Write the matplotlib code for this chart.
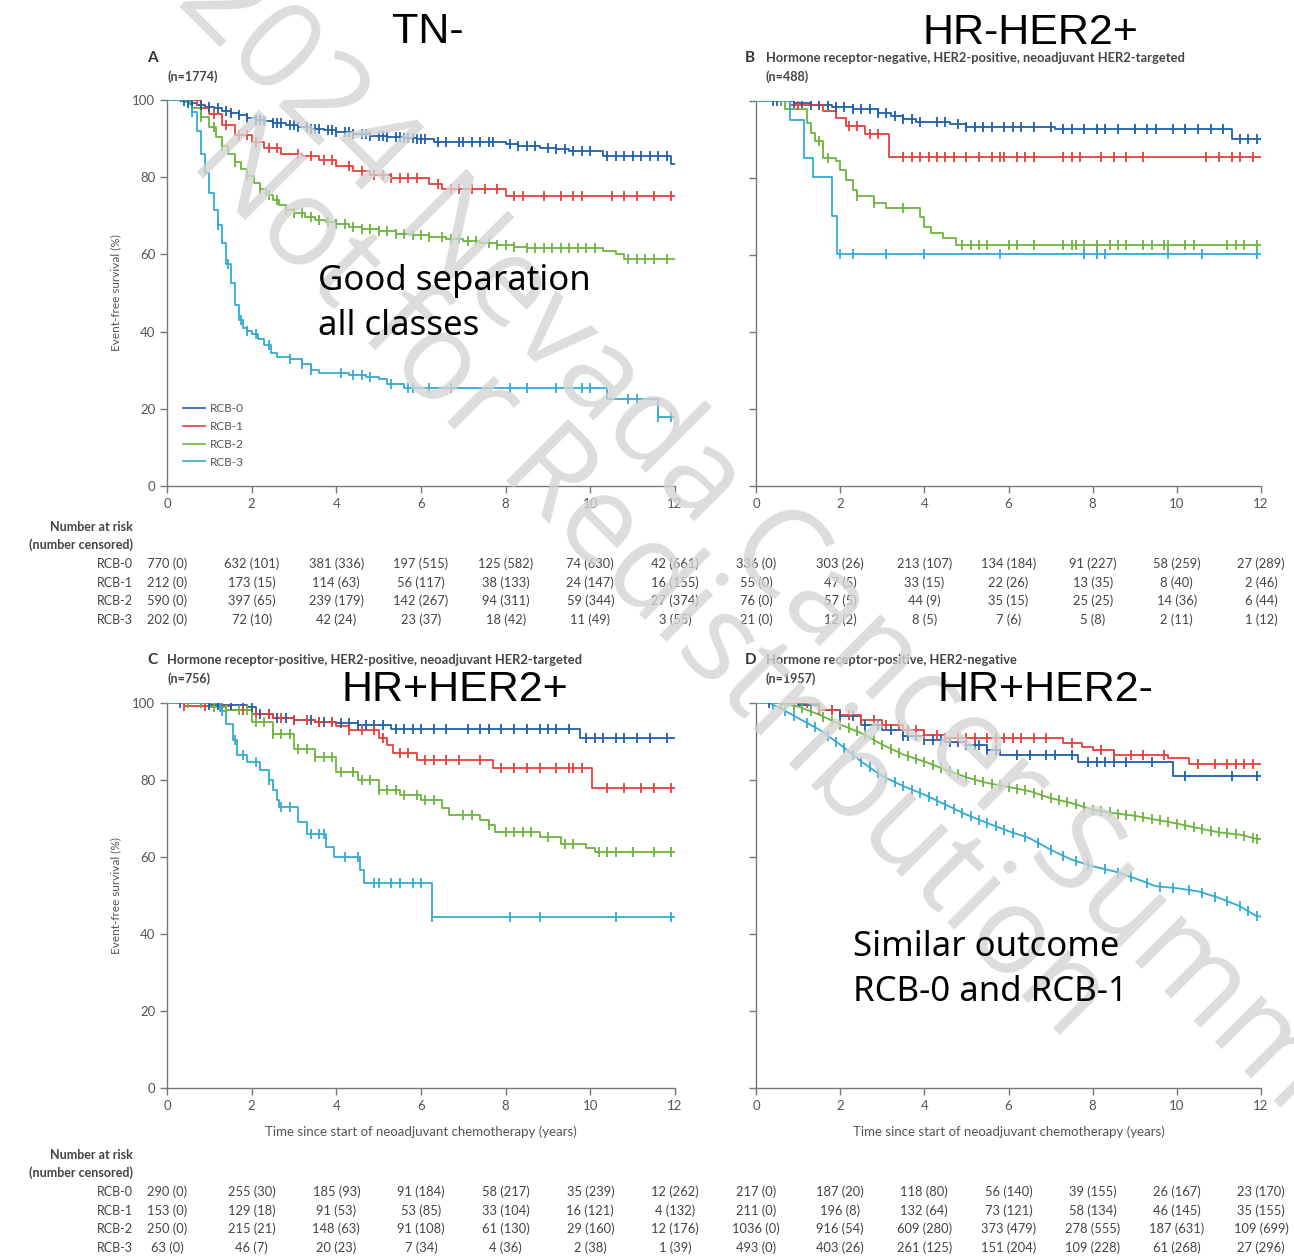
import numpy as np
import matplotlib
matplotlib.use('Agg')
import matplotlib.pyplot as plt
import matplotlib.transforms as mtransforms

W, H = 1294, 1256

groups = ['RCB-0', 'RCB-1', 'RCB-2', 'RCB-3']
colors = ['#1d5fa9', '#e6403b', '#6cb43f', '#33aad4']
years = [0, 2, 4, 6, 8, 10, 12]

# ---- Panel A: triple negative ----
a0_t = [0, 0.3, 0.5, 0.7, 0.9, 1.1, 1.3, 1.5, 1.7, 1.9, 2.1, 2.3, 2.5, 2.8, 3.1, 3.4, 3.7, 4.0, 4.4, 4.8, 5.2, 5.6, 5.9, 6.3, 8.0, 8.3, 8.8, 9.2, 9.5, 10.3, 11.9]
a0_s = [100, 99.7, 99.3, 98.8, 98.3, 97.8, 97.2, 96.6, 96, 95.4, 94.9, 94.5, 94.1, 93.6, 93.1, 92.6, 92.1, 91.6, 91.2, 90.8, 90.5, 90.2, 89.8, 89.1, 88.6, 88.1, 87.6, 87.2, 86.8, 85.6, 83.5]
a1_t = [0, 0.5, 0.8, 1.0, 1.3, 1.6, 2.0, 2.3, 2.7, 3.2, 3.6, 4.0, 4.4, 4.8, 5.3, 6.2, 6.5, 8.0]
a1_s = [100, 100, 98, 96.5, 93.5, 91, 89, 87.5, 86, 85.5, 84.5, 83, 81.5, 80.5, 79.8, 78.2, 77, 75.2]
a2_t = [0, 0.4, 0.6, 0.8, 1.0, 1.15, 1.3, 1.45, 1.6, 1.75, 1.9, 2.05, 2.2, 2.35, 2.5, 2.65, 2.8, 3.0, 3.25, 3.5, 3.75, 4.0, 4.3, 4.6, 5.0, 5.4, 5.8, 6.2, 6.6, 7.0, 7.4, 7.8, 8.2, 8.5, 10.3, 10.6, 10.8]
a2_s = [100, 99.5, 97.8, 95.5, 93, 90.5, 88.2, 86, 84, 82, 80.2, 78.6, 77, 75.4, 74, 72.8, 71.6, 70.6, 69.8, 69, 68.4, 67.8, 67.2, 66.6, 66, 65.4, 64.9, 64.5, 64, 63.5, 63, 62.5, 62, 61.6, 61, 60, 58.8]
a3_t = [0, 0.5, 0.6, 0.7, 0.8, 0.9, 1.0, 1.1, 1.2, 1.3, 1.4, 1.5, 1.6, 1.7, 1.8, 1.9, 2.0, 2.15, 2.3, 2.45, 2.6, 2.9, 3.2, 3.4, 3.6, 4.3, 4.7, 5.0, 5.2, 5.6, 10.4, 11.6]
a3_s = [100, 99, 97, 92, 86, 81, 76, 71.5, 67.5, 63, 57.5, 52.5, 47, 43, 41, 40.2, 39.5, 38, 36.5, 34.5, 33.3, 33, 31.5, 30, 29.2, 28.8, 28.2, 27.7, 26.5, 25.3, 22.5, 17.8]
a0_c = [0.4, 0.5, 0.6, 0.8, 1.0, 1.2, 1.4, 1.5, 1.7, 1.9, 2.1, 2.2, 2.3, 2.5, 2.6, 2.7, 2.9, 3.0, 3.1, 3.3, 3.4, 3.5, 3.6, 3.8, 3.9, 4.0, 4.2, 4.3, 4.4, 4.6, 4.7, 4.8, 5.0, 5.1, 5.2, 5.4, 5.5, 5.6, 5.7, 5.8, 5.9, 6.0, 6.1, 6.4, 6.6, 6.9, 7.0, 7.2, 7.4, 7.6, 7.7, 8.1, 8.3, 8.5, 8.7, 9.0, 9.2, 9.4, 9.6, 9.8, 10.0, 10.4, 10.6, 10.8, 11.0, 11.2, 11.4, 11.6, 11.8]
a1_c = [0.7, 1.1, 1.4, 1.7, 1.9, 2.1, 2.4, 2.6, 3.1, 3.4, 3.7, 3.9, 4.3, 4.6, 4.9, 5.1, 5.3, 5.5, 5.7, 5.9, 6.4, 6.7, 6.9, 7.2, 7.5, 7.8, 8.2, 8.4, 8.9, 9.3, 9.6, 9.8, 10.5, 10.8, 11.1, 11.5, 11.9]
a2_c = [0.8, 1.1, 1.3, 1.6, 1.9, 2.2, 2.4, 2.6, 2.8, 3.0, 3.2, 3.4, 3.6, 3.8, 4.0, 4.2, 4.4, 4.6, 4.8, 5.0, 5.2, 5.4, 5.6, 5.8, 6.0, 6.2, 6.5, 6.7, 6.9, 7.1, 7.3, 7.6, 7.8, 8.0, 8.2, 8.5, 8.7, 8.9, 9.1, 9.3, 9.5, 9.7, 9.9, 10.1, 10.9, 11.1, 11.3, 11.5, 11.8]
a3_c = [0.6, 1.2, 1.45, 1.75, 1.9, 2.1, 2.4, 2.9, 3.2, 3.4, 4.1, 4.4, 4.6, 4.8, 5.3, 5.7, 5.8, 6.2, 6.7, 8.1, 8.5, 9.2, 9.8, 10.0, 10.9, 11.1, 11.6, 11.9]

# ---- Panel B: HR-negative HER2-positive ----
b0_t = [0, 0.9, 1.3, 1.8, 2.3, 2.9, 3.2, 3.5, 3.8, 4.6, 5.0, 7.1, 11.3]
b0_s = [100, 99.5, 99, 98.5, 98, 97, 96, 95.2, 94.6, 94, 93.3, 92.7, 90.1]
b1_t = [0, 0.8, 1.6, 1.9, 2.15, 2.6, 3.15]
b1_s = [100, 99, 97.5, 95.7, 93.5, 91.3, 85.4]
b2_t = [0, 0.7, 1.2, 1.3, 1.4, 1.6, 1.9, 2.0, 2.15, 2.3, 2.4, 2.8, 3.1, 3.9, 4.0, 4.15, 4.45, 4.75]
b2_s = [100, 97.8, 94.2, 91.6, 89.5, 85.1, 84.3, 82.1, 79.5, 76.9, 75.2, 73.5, 72.2, 70.0, 67.4, 65.7, 64.4, 62.7]
b3_t = [0, 0.8, 1.13, 1.35, 1.8, 1.92]
b3_s = [100, 95, 85.1, 80.2, 70.2, 60.2]
b0_c = [0.4, 0.5, 0.6, 0.9, 1.1, 1.3, 1.5, 1.7, 1.9, 2.1, 2.3, 2.5, 2.7, 2.9, 3.1, 3.3, 3.5, 3.7, 3.9, 4.3, 4.5, 4.8, 5.0, 5.2, 5.4, 5.6, 5.9, 6.1, 6.3, 6.6, 7.0, 7.3, 7.5, 7.8, 8.1, 8.3, 8.6, 9.0, 9.3, 9.5, 9.9, 10.2, 10.5, 10.8, 11.1, 11.5, 11.7, 11.9]
b1_c = [1.0, 2.2, 2.4, 2.7, 2.9, 3.5, 3.7, 3.9, 4.1, 4.3, 4.5, 4.7, 5.0, 5.3, 5.6, 5.8, 5.9, 6.2, 6.4, 6.6, 7.3, 7.5, 7.7, 8.2, 8.5, 8.8, 9.2, 10.7, 11.0, 11.3, 11.5, 11.8]
b2_c = [0.6, 1.5, 1.7, 2.4, 2.8, 3.5, 4.9, 5.1, 5.3, 5.5, 6.0, 6.2, 6.6, 7.3, 7.5, 7.6, 7.8, 8.1, 8.4, 8.6, 8.8, 9.2, 9.4, 9.7, 9.8, 10.2, 10.4, 11.2, 11.4, 11.6, 11.9]
b3_c = [2.0, 2.3, 3.1, 4.0, 5.8, 7.8, 8.1, 8.3, 9.8, 10.6, 11.9]

# ---- Panel C: HR-positive HER2-positive ----
c0_t = [0, 1.0, 1.9, 2.1, 2.5, 3.0, 3.5, 4.0, 4.5, 5.3, 9.75]
c0_s = [100, 99.5, 99, 97.2, 96.2, 95.6, 95, 94.8, 94.3, 93.3, 90.9]
c1_t = [0, 0.4, 1.5, 2.0, 2.5, 3.0, 3.5, 4.0, 4.3, 5.0, 5.2, 5.35, 5.9, 7.7, 10.05]
c1_s = [100, 99.2, 98.2, 97.2, 96.2, 95.6, 95, 94, 93, 91, 89, 87, 85.2, 83.1, 78]
c2_t = [0, 0.6, 1.0, 1.4, 2.0, 2.5, 3.0, 3.5, 4.0, 4.5, 5.0, 5.5, 6.0, 6.5, 6.65, 7.4, 7.6, 7.75, 8.8, 9.3, 9.9, 10.1]
c2_s = [100, 100, 99, 98.1, 95.1, 92, 88.1, 86, 82, 80.1, 77.4, 76, 74.8, 72.6, 70.9, 69.6, 68.3, 66.6, 65.3, 63.5, 62.3, 61.3]
c3_t = [0, 1.1, 1.25, 1.4, 1.55, 1.65, 1.9, 2.2, 2.4, 2.5, 2.6, 2.65, 3.1, 3.3, 3.75, 3.95, 4.55, 4.65, 6.25]
c3_s = [100, 100, 98, 94.6, 90.3, 86.4, 84.7, 82.5, 80, 77.4, 74.8, 73, 69.1, 66.1, 62.6, 60, 56.6, 53.3, 44.3]
c0_c = [0.3, 0.8, 1.0, 1.2, 1.5, 1.8, 2.0, 2.2, 2.4, 2.6, 2.8, 3.0, 3.4, 3.6, 3.7, 3.9, 4.1, 4.3, 4.5, 4.7, 4.9, 5.1, 5.4, 5.6, 5.8, 6.0, 6.3, 6.6, 7.1, 7.4, 7.6, 7.9, 8.2, 8.5, 8.8, 9.0, 9.2, 9.5, 9.9, 10.1, 10.3, 10.6, 10.8, 11.1, 11.4, 11.8]
c1_c = [0.4, 0.9, 1.3, 1.8, 2.1, 2.4, 2.7, 3.0, 3.3, 3.6, 3.9, 4.3, 4.6, 4.9, 5.1, 5.5, 5.7, 6.1, 6.3, 6.6, 6.9, 7.4, 7.9, 8.2, 8.5, 8.8, 9.2, 9.5, 9.6, 9.8, 10.4, 10.8, 11.2, 11.5, 11.9]
c2_c = [0.5, 0.8, 1.1, 1.4, 1.7, 1.9, 2.1, 2.3, 2.5, 2.7, 2.9, 3.1, 3.3, 3.5, 3.7, 3.9, 4.1, 4.4, 4.6, 4.8, 5.0, 5.2, 5.4, 5.6, 5.9, 6.1, 6.3, 7.0, 7.2, 7.6, 8.0, 8.2, 8.4, 8.6, 9.0, 9.4, 9.6, 10.2, 10.4, 10.6, 11.0, 11.5, 11.9]
c3_c = [1.3, 1.6, 1.8, 2.1, 2.4, 2.7, 2.9, 3.4, 3.6, 3.7, 4.2, 4.5, 4.9, 5.0, 5.3, 5.5, 5.8, 6.0, 6.25, 8.1, 8.8, 10.6, 11.9]

# ---- Panel D: HR-positive HER2-negative ----
d0_t = [0, 0.8, 1.0, 1.5, 2.0, 2.5, 3.0, 3.5, 4.0, 4.5, 5.0, 5.5, 5.8, 7.65, 9.9]
d0_s = [100, 100, 99.6, 98.2, 96.5, 94.4, 93, 91.3, 90.5, 89.8, 89.2, 87.9, 86.6, 84.8, 81.1]
d1_t = [0, 1.0, 1.5, 2.0, 2.5, 3.0, 3.5, 4.0, 4.5, 7.3, 7.75, 8.0, 8.5, 9.8, 10.3]
d1_s = [100, 100, 98.3, 97, 95.7, 94.4, 93.1, 91.8, 90.8, 89.6, 88.6, 87.7, 86.6, 85.7, 84.2]
d2_t = [0, 0.5, 1.0, 1.5, 2.0, 2.5, 3.0, 3.5, 4.0, 4.5, 5.0, 5.5, 6.0, 6.5, 7.0, 7.5, 8.0, 8.5, 9.0, 9.5, 10.0, 10.5, 11.0, 11.5, 11.9]
d2_s = [100, 100, 99.1, 97, 94.4, 92.2, 89.2, 86.6, 84.8, 82.7, 80.7, 79.2, 78.2, 77.1, 75.3, 74, 72.3, 71.4, 70.7, 69.7, 68.7, 67.5, 66.4, 65.8, 64.7]
d3_t = [0, 0.3, 0.5, 1.0, 1.5, 2.0, 2.5, 3.0, 3.5, 4.0, 4.5, 5.0, 5.5, 6.0, 6.5, 7.0, 7.5, 8.0, 8.5, 9.0, 9.5, 10.0, 10.5, 11.0, 11.5, 11.9]
d3_s = [100, 100, 99.1, 96.1, 93.1, 89.2, 84.8, 81, 78.4, 76.2, 73.6, 71, 68.8, 66.7, 64.9, 61.9, 59.3, 57.6, 56.3, 54.5, 52.4, 51.9, 51.1, 49.4, 47.2, 44.6]
d0_c = [0.3, 1.5, 1.8, 2.0, 2.3, 2.6, 2.9, 3.2, 3.5, 3.6, 3.8, 4.0, 4.2, 4.4, 4.6, 4.8, 5.0, 5.2, 5.3, 5.5, 5.7, 6.2, 6.5, 6.9, 7.1, 7.5, 7.9, 8.1, 8.3, 8.5, 8.8, 9.4, 10.2, 11.3, 11.9]
d1_c = [0.6, 0.9, 1.2, 1.5, 1.8, 2.2, 2.5, 2.8, 3.1, 3.4, 3.6, 3.8, 4.0, 4.3, 4.5, 4.8, 5.0, 5.2, 5.5, 5.7, 5.9, 6.1, 6.3, 6.6, 6.9, 7.5, 8.2, 8.5, 8.9, 9.2, 9.7, 10.5, 10.9, 11.2, 11.4, 11.6, 11.8]
d2_c = [0.6, 0.9, 1.1, 1.3, 1.6, 1.8, 2.0, 2.2, 2.4, 2.6, 2.8, 3.0, 3.2, 3.4, 3.6, 3.8, 4.0, 4.2, 4.4, 4.6, 4.8, 5.0, 5.2, 5.4, 5.6, 5.8, 6.0, 6.2, 6.4, 6.6, 6.8, 7.0, 7.2, 7.4, 7.6, 7.8, 8.0, 8.2, 8.4, 8.6, 8.8, 9.0, 9.2, 9.4, 9.6, 9.8, 10.0, 10.2, 10.4, 10.6, 10.8, 11.0, 11.2, 11.4, 11.6, 11.8, 11.9]
d3_c = [0.4, 0.7, 0.9, 1.2, 1.4, 1.7, 1.9, 2.1, 2.3, 2.5, 2.7, 2.9, 3.1, 3.3, 3.5, 3.7, 3.9, 4.1, 4.3, 4.5, 4.7, 4.9, 5.1, 5.3, 5.5, 5.7, 5.9, 6.1, 6.4, 6.7, 7.0, 7.3, 7.6, 7.9, 8.3, 8.6, 8.9, 9.3, 9.6, 9.9, 10.3, 10.6, 10.9, 11.2, 11.5, 11.7, 11.9]

# number at risk (number censored) at years 0,2,...,12
risk_a = [['770 (0)', '632 (101)', '381 (336)', '197 (515)', '125 (582)', '74 (630)', '42 (661)'],
          ['212 (0)', '173 (15)', '114 (63)', '56 (117)', '38 (133)', '24 (147)', '16 (155)'],
          ['590 (0)', '397 (65)', '239 (179)', '142 (267)', '94 (311)', '59 (344)', '27 (374)'],
          ['202 (0)', '72 (10)', '42 (24)', '23 (37)', '18 (42)', '11 (49)', '3 (55)']]
risk_b = [['336 (0)', '303 (26)', '213 (107)', '134 (184)', '91 (227)', '58 (259)', '27 (289)'],
          ['55 (0)', '47 (5)', '33 (15)', '22 (26)', '13 (35)', '8 (40)', '2 (46)'],
          ['76 (0)', '57 (5)', '44 (9)', '35 (15)', '25 (25)', '14 (36)', '6 (44)'],
          ['21 (0)', '12 (2)', '8 (5)', '7 (6)', '5 (8)', '2 (11)', '1 (12)']]
risk_c = [['290 (0)', '255 (30)', '185 (93)', '91 (184)', '58 (217)', '35 (239)', '12 (262)'],
          ['153 (0)', '129 (18)', '91 (53)', '53 (85)', '33 (104)', '16 (121)', '4 (132)'],
          ['250 (0)', '215 (21)', '148 (63)', '91 (108)', '61 (130)', '29 (160)', '12 (176)'],
          ['63 (0)', '46 (7)', '20 (23)', '7 (34)', '4 (36)', '2 (38)', '1 (39)']]
risk_d = [['217 (0)', '187 (20)', '118 (80)', '56 (140)', '39 (155)', '26 (167)', '23 (170)'],
          ['211 (0)', '196 (8)', '132 (64)', '73 (121)', '58 (134)', '46 (145)', '35 (155)'],
          ['1036 (0)', '916 (54)', '609 (280)', '373 (479)', '278 (555)', '187 (631)', '109 (699)'],
          ['493 (0)', '403 (26)', '261 (125)', '151 (204)', '109 (228)', '61 (268)', '27 (296)']]

plt.rcParams['font.family'] = ['Lato', 'DejaVu Sans']
GREY = '#555555'
TXT = '#444444'

fig = plt.figure(figsize=(W / 100, H / 100), dpi=100)


def fx(px):
    return px / W


def fy(py):
    return 1 - py / H


def make_axes(x0, x1, y0, y1):
    return fig.add_axes([fx(x0), fy(y1), fx(x1) - fx(x0), fy(y0) - fy(y1)])


axA = make_axes(167, 675, 100, 486)
axB = make_axes(756, 1261, 101, 486)
axC = make_axes(167, 675, 703, 1088)
axD = make_axes(756, 1261, 703, 1088)


def km(ax, t, s, cens, color, dense=False):
    t = list(t) + [12]
    s = list(s) + [s[-1]]
    if dense:
        ax.plot(t, s, color=color, lw=1.3, zorder=3)
        cy = np.interp(cens, t, s)
    else:
        ax.plot(t, s, color=color, lw=1.3, drawstyle='steps-post', zorder=3)
        idx = np.searchsorted(t, cens, side='right') - 1
        cy = np.array(s)[idx]
    ax.plot(cens, cy, ls='none', marker='|', ms=7.5, mew=1.3, color=color, zorder=4)


panel_data = [
    (axA, [(a0_t, a0_s, a0_c, False), (a1_t, a1_s, a1_c, False), (a2_t, a2_s, a2_c, False), (a3_t, a3_s, a3_c, False)]),
    (axB, [(b0_t, b0_s, b0_c, False), (b1_t, b1_s, b1_c, False), (b2_t, b2_s, b2_c, False), (b3_t, b3_s, b3_c, False)]),
    (axC, [(c0_t, c0_s, c0_c, False), (c1_t, c1_s, c1_c, False), (c2_t, c2_s, c2_c, False), (c3_t, c3_s, c3_c, False)]),
    (axD, [(d0_t, d0_s, d0_c, False), (d1_t, d1_s, d1_c, False), (d2_t, d2_s, d2_c, True), (d3_t, d3_s, d3_c, True)]),
]

for ax, curves in panel_data:
    for i, (t, s, c, dense) in enumerate(curves):
        km(ax, t, s, c, colors[i], dense)
    ax.set_xlim(0, 12)
    ax.set_ylim(0, 100)
    ax.set_xticks(years)
    ax.set_yticks([0, 20, 40, 60, 80, 100])
    for sp in ['top', 'right']:
        ax.spines[sp].set_visible(False)
    for sp in ['left', 'bottom']:
        ax.spines[sp].set_color('#777777')
        ax.spines[sp].set_linewidth(1.0)
    ax.tick_params(colors='#777777', labelcolor=GREY, labelsize=9.5, length=5, width=1)

for ax in [axB, axD]:
    ax.set_yticklabels([])

for ax in [axA, axC]:
    ax.set_ylabel('Event-free survival (%)', fontsize=8.5, color=GREY, labelpad=8)
for ax in [axC, axD]:
    ax.set_xlabel('Time since start of neoadjuvant chemotherapy (years)', fontsize=9.5, color=GREY, labelpad=10)

# legend in panel A
handles = [axA.plot([], [], color=colors[i], lw=1.2)[0] for i in range(4)]
leg = axA.legend(handles, groups, loc='upper left', bbox_to_anchor=(fx(183), fy(403)),
                 bbox_transform=fig.transFigure, frameon=False, fontsize=8.5,
                 handlelength=1.85, handletextpad=0.4, labelspacing=0.58, borderaxespad=0, borderpad=0)
for txt in leg.get_texts():
    txt.set_color(GREY)

# panel headers
headers = [(147, 167, 58, 77, 'A', '', '(n=1774)'),
           (745, 766, 58, 77, 'B', 'Hormone receptor-negative, HER2-positive, neoadjuvant HER2-targeted', '(n=488)'),
           (147, 167, 660, 679, 'C', 'Hormone receptor-positive, HER2-positive, neoadjuvant HER2-targeted', '(n=756)'),
           (745, 766, 660, 679, 'D', 'Hormone receptor-positive, HER2-negative', '(n=1957)')]
for lx, tx, y1, y2, letter, title, n in headers:
    fig.text(fx(lx), fy(y1), letter, fontsize=11, fontweight='bold', color='#333333', va='center', ha='left')
    fig.text(fx(tx), fy(y1), title, fontsize=9.3, fontweight='bold', color='#444444', va='center', ha='left')
    fig.text(fx(tx), fy(y2), n, fontsize=9, fontweight='bold', color='#444444', va='center', ha='left')


# risk tables
def risk_table(ax, rows, top_py, labels):
    tr = mtransforms.blended_transform_factory(ax.transData, fig.transFigure)
    row_y = [top_py + 37, top_py + 56, top_py + 74, top_py + 93]
    if labels:
        fig.text(fx(133), fy(top_py), 'Number at risk', fontsize=9, fontweight='bold', color=TXT, ha='right', va='center')
        fig.text(fx(133), fy(top_py + 18), '(number censored)', fontsize=9, fontweight='bold', color=TXT, ha='right', va='center')
    for r, vals in enumerate(rows):
        if labels:
            fig.text(fx(133), fy(row_y[r]), groups[r], fontsize=9, color=TXT, ha='right', va='center')
        for yr, v in zip(years, vals):
            ax.text(yr, fy(row_y[r]), v, transform=tr, fontsize=9.3, color=TXT, ha='center', va='center', clip_on=False)


risk_table(axA, risk_a, 527, True)
risk_table(axB, risk_b, 527, False)
risk_table(axC, risk_c, 1155, True)
risk_table(axD, risk_d, 1155, False)

# watermark
wm = dict(fontsize=88, color='#d4d4d4', alpha=0.8, rotation=-45, rotation_mode='anchor',
          ha='center', va='center', family=['Open Sans', 'DejaVu Sans'], zorder=20)
fig.text(fx(780), fy(562), '2024 Nevada Cancer Summit', **wm)
fig.text(fx(650), fy(580), 'Not for Redistribution', **wm)

# subtype labels and notes
big = dict(fontsize=31, color='black', ha='center', va='center', family=['Liberation Sans', 'DejaVu Sans'], zorder=30)
fig.text(fx(428), fy(32), 'TN-', **big)
fig.text(fx(1030), fy(33), 'HR-HER2+', **big)
fig.text(fx(455), fy(690), 'HR+HER2+', **big)
fig.text(fx(1045), fy(690), 'HR+HER2-', **big)

note = dict(fontsize=25, color='black', ha='left', va='center', family=['Noto Sans', 'DejaVu Sans'], zorder=30)
fig.text(fx(318), fy(281), 'Good separation', **note)
fig.text(fx(318), fy(326), 'all classes', **note)
fig.text(fx(853), fy(947), 'Similar outcome', **note)
fig.text(fx(853), fy(992), 'RCB-0 and RCB-1', **note)

fig.savefig('out.png', dpi=100)
